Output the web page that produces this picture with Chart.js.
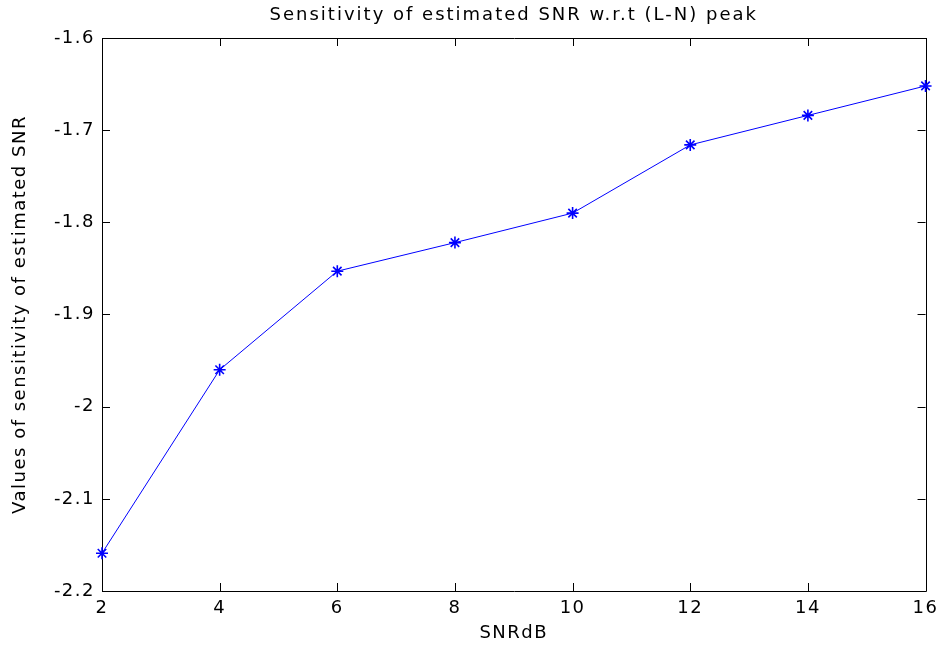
<!DOCTYPE html>
<html>
<head>
<meta charset="utf-8">
<script src="https://cdn.jsdelivr.net/npm/chart.js@4.4.1/dist/chart.umd.min.js"></script>
<style>
html,body{margin:0;padding:0;background:#fff;}
#wrap{width:944px;height:653px;position:relative;}
</style>
</head>
<body>
<div id="wrap"><canvas id="c" width="944" height="653"></canvas></div>
<script>
const categories = [2, 4, 6, 8, 10, 12, 14, 16];
const sensitivity = [-2.159, -1.960, -1.853, -1.822, -1.790, -1.716, -1.684, -1.652];
const xTicks = [2, 4, 6, 8, 10, 12, 14, 16];
const yTicks = [-2.2, -2.1, -2.0, -1.9, -1.8, -1.7, -1.6];
const chartTitle = 'Sensitivity of estimated SNR w.r.t (L-N) peak';
const xLabel = 'SNRdB';
const yLabel = 'Values of sensitivity of estimated SNR';

const FONT = '"DejaVu Sans", sans-serif';
const SPACING = '1.5px';

const boxPlugin = {
  id: 'matlabBox',
  beforeDraw(chart) {
    chart.ctx.letterSpacing = SPACING;
  },
  beforeDatasetsDraw(chart) {
    const {ctx, chartArea: a, scales: {x, y}} = chart;
    ctx.save();
    ctx.strokeStyle = '#000';
    ctx.lineWidth = 1;
    ctx.beginPath();
    ctx.rect(Math.round(a.left) + 0.5, Math.round(a.top) + 0.5, Math.round(a.right - a.left), Math.round(a.bottom - a.top));
    ctx.stroke();
    const L = 8;
    ctx.beginPath();
    xTicks.forEach(v => {
      const px = Math.round(x.getPixelForValue(v)) + 0.5;
      ctx.moveTo(px, a.bottom); ctx.lineTo(px, a.bottom - L);
      ctx.moveTo(px, a.top); ctx.lineTo(px, a.top + L);
    });
    yTicks.forEach(v => {
      const py = Math.round(y.getPixelForValue(v)) + 0.5;
      ctx.moveTo(a.left, py); ctx.lineTo(a.left + L, py);
      ctx.moveTo(a.right, py); ctx.lineTo(a.right - L, py);
    });
    ctx.stroke();
    ctx.fillStyle = '#000';
    ctx.font = '18px ' + FONT;
    ctx.letterSpacing = '2px';
    ctx.textAlign = 'center';
    ctx.textBaseline = 'middle';
    ctx.fillText(chartTitle, (a.left + a.right) / 2, 15);
    ctx.restore();
  }
};

new Chart(document.getElementById('c'), {
  type: 'line',
  data: {
    datasets: [{
      data: categories.map((c, i) => ({x: c, y: sensitivity[i]})),
      borderColor: '#0000ff',
      backgroundColor: '#0000ff',
      borderWidth: 1,
      pointStyle: 'star',
      pointRadius: 6,
      pointBorderWidth: 1.6,
      pointBorderColor: '#0000ff',
      tension: 0,
      fill: false,
      clip: false
    }]
  },
  options: {
    responsive: false,
    animation: false,
    devicePixelRatio: 1,
    layout: {padding: {top: 38, right: 16, left: 0, bottom: 0}},
    plugins: {legend: {display: false}, tooltip: {enabled: false}, title: {display: false}},
    scales: {
      x: {
        type: 'linear',
        min: 2, max: 16,
        afterBuildTicks(s) { s.ticks = xTicks.map(v => ({value: v})); },
        afterFit(s) { s.height = 62; },
        grid: {display: false, drawTicks: false},
        border: {display: false},
        ticks: {color: '#000', font: {family: FONT, size: 18}, padding: 7, maxRotation: 0, autoSkip: false},
        title: {display: true, text: xLabel, color: '#000', font: {family: FONT, size: 18}, padding: {top: 0, bottom: 9}}
      },
      y: {
        type: 'linear',
        min: -2.2, max: -1.6,
        afterBuildTicks(s) { s.ticks = yTicks.map(v => ({value: v})); },
        afterFit(s) { s.width = 102; },
        grid: {display: false, drawTicks: false},
        border: {display: false},
        ticks: {color: '#000', font: {family: FONT, size: 18}, padding: 7,
          callback: v => { const r = Math.round(v * 10) / 10; return r === -2 ? '-2' : r.toFixed(1); }},
        title: {display: true, text: yLabel, color: '#000', font: {family: FONT, size: 18}, padding: {top: 10, bottom: 0}}
      }
    }
  },
  plugins: [boxPlugin]
});
</script>
</body>
</html>
